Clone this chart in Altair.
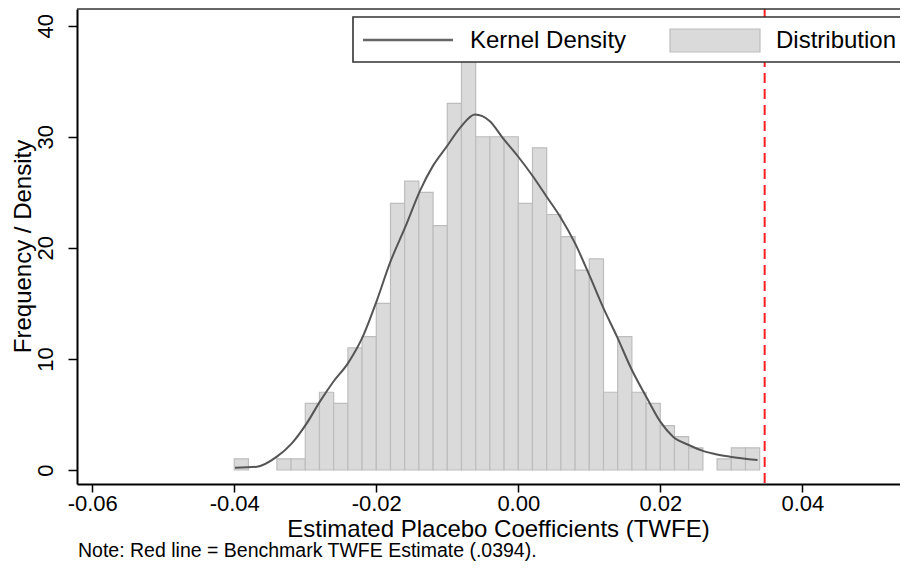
import altair as alt
import pandas as pd

# Histogram bins (width 0.002) and counts
bin_start = [-0.040, -0.038, -0.036, -0.034, -0.032, -0.030, -0.028, -0.026, -0.024, -0.022,
             -0.020, -0.018, -0.016, -0.014, -0.012, -0.010, -0.008, -0.006, -0.004, -0.002,
             0.000, 0.002, 0.004, 0.006, 0.008, 0.010, 0.012, 0.014, 0.016, 0.018,
             0.020, 0.022, 0.024, 0.026, 0.028, 0.030, 0.032]
counts = [1, 0, 0, 1, 1, 6, 7, 6, 11, 12,
          15, 24, 26, 25, 22, 33, 40, 30, 30, 30,
          24, 29, 23, 21, 18, 19, 7, 12, 7, 6,
          4, 3, 2, 0, 1, 2, 2]
bin_width = 0.002

# Kernel density curve (scaled to frequency)
kd_x = [-0.0399, -0.0368, -0.0340, -0.0319, -0.0298, -0.0279, -0.0261, -0.0240, -0.0219, -0.0199,
        -0.0181, -0.0159, -0.0138, -0.0120, -0.0101, -0.0082, -0.0061, -0.0040, -0.0022, 0.0000,
        0.0021, 0.0040, 0.0059, 0.0080, 0.0101, 0.0119, 0.0139, 0.0160, 0.0181, 0.0200,
        0.0218, 0.0240, 0.0261, 0.0280, 0.0298, 0.0337]
kd_y = [0.2, 0.3, 1.2, 2.4, 4.2, 6.2, 7.9, 9.6, 12.0, 15.3,
        18.6, 21.9, 25.2, 27.4, 29.1, 30.8, 32.0, 31.4, 29.9, 28.2,
        26.4, 24.6, 22.8, 20.4, 17.4, 14.7, 12.0, 9.0, 6.5, 4.35,
        3.0, 2.25, 1.7, 1.4, 1.2, 0.9]

benchmark_x = 0.0347
x_ticks = [-0.06, -0.04, -0.02, 0.00, 0.02, 0.04]
y_ticks = [0, 10, 20, 30, 40]

x_title = "Estimated Placebo Coefficients (TWFE)"
y_title = "Frequency / Density"
note = "Note: Red line = Benchmark TWFE Estimate (.0394)."
legend_labels = ["Kernel Density", "Distribution"]

W, H = 823, 475
FONT = "Liberation Sans"

hist = pd.DataFrame({
    "x0": bin_start,
    "x1": [b + bin_width for b in bin_start],
    "n": counts,
})
kd = pd.DataFrame({"x": kd_x, "y": kd_y})
one = pd.DataFrame({"a": [0]})

xscale = alt.Scale(domain=[-0.06215, 0.05376], nice=False, zero=False)
yscale = alt.Scale(domain=[-1.26, 41.5], nice=False, zero=False)

xaxis = alt.Axis(values=x_ticks, title=x_title, grid=False,
                 labelExpr="(datum.value < 0 ? '-' : '') + format(abs(datum.value), '.2f')",
                 domainColor="black", domainWidth=2, tickColor="black", tickWidth=1.5,
                 tickSize=8, labelFontSize=22, labelColor="black", labelPadding=1,
                 titleFontSize=24, titleFontWeight="normal", titleColor="black",
                 titleX=421, titleY=45, titleAlign="center", titleBaseline="middle",
                 labelFont=FONT, titleFont=FONT)
yaxis = alt.Axis(values=y_ticks, format="d", title=y_title, grid=False,
                 domainColor="black", domainWidth=2, tickColor="black", tickWidth=1.5,
                 tickSize=9, labelFontSize=22, labelColor="black", labelPadding=11,
                 labelAngle=270, labelAlign="center", labelBaseline="bottom",
                 titleFontSize=24, titleFontWeight="normal", titleColor="black",
                 titleAngle=270, titleX=-47, titleY=237, titleAlign="center",
                 titleBaseline="alphabetic",
                 labelFont=FONT, titleFont=FONT)

bars = alt.Chart(hist).transform_filter("datum.n > 0").mark_rect(
    fill="#dadada", stroke="#bdbdbd", strokeWidth=1.2
).encode(
    x=alt.X("x0:Q", scale=xscale, axis=xaxis),
    x2="x1:Q",
    y=alt.Y("n:Q", scale=yscale, axis=yaxis),
    y2=alt.datum(0),
)

line = alt.Chart(kd).mark_line(color="#555555", strokeWidth=2, interpolate="monotone").encode(
    x=alt.X("x:Q", scale=xscale),
    y=alt.Y("y:Q", scale=yscale),
)

red = alt.Chart(one).mark_rule(color="#ff1f1f", strokeWidth=2, strokeDash=[10, 6]).encode(
    x=alt.datum(benchmark_x),
    y=alt.value(0),
    y2=alt.value(H),
)

top_frame = alt.Chart(one).mark_rule(color="#333333", strokeWidth=1.6).encode(
    x=alt.value(0), x2=alt.value(W + 10), y=alt.value(0)
)

legend_box = alt.Chart(one).mark_rect(fill="white", stroke="#333333", strokeWidth=1.6).encode(
    x=alt.value(276), x2=alt.value(W + 10), y=alt.value(8), y2=alt.value(53)
)
legend_line = alt.Chart(one).mark_rule(color="#666666", strokeWidth=2.5).encode(
    x=alt.value(286), x2=alt.value(376), y=alt.value(31)
)
legend_t1 = alt.Chart(one).mark_text(
    text=legend_labels[0], font=FONT, fontSize=24, align="left", baseline="middle", color="black"
).encode(x=alt.value(393), y=alt.value(32))
legend_sw = alt.Chart(one).mark_rect(fill="#dadada", stroke="#bdbdbd", strokeWidth=1.2).encode(
    x=alt.value(593), x2=alt.value(683), y=alt.value(20), y2=alt.value(43)
)
legend_t2 = alt.Chart(one).mark_text(
    text=legend_labels[1], font=FONT, fontSize=24, align="left", baseline="middle", color="black"
).encode(x=alt.value(699), y=alt.value(32))

note_t = alt.Chart(one).mark_text(
    text=note, font=FONT, fontSize=19.5, align="left", baseline="middle", color="black"
).encode(x=alt.value(1), y=alt.value(542))

chart = alt.layer(
    bars, line, red, top_frame, legend_box, legend_line, legend_t1, legend_sw, legend_t2, note_t
).properties(
    width=W, height=H,
    autosize=alt.AutoSizeParams(type="none"),
    padding={"left": 69, "top": 1, "right": 0, "bottom": 93},
    background="white",
).configure_view(stroke=None)

chart.save("out.html", embed_options={"renderer": "svg", "actions": False})
